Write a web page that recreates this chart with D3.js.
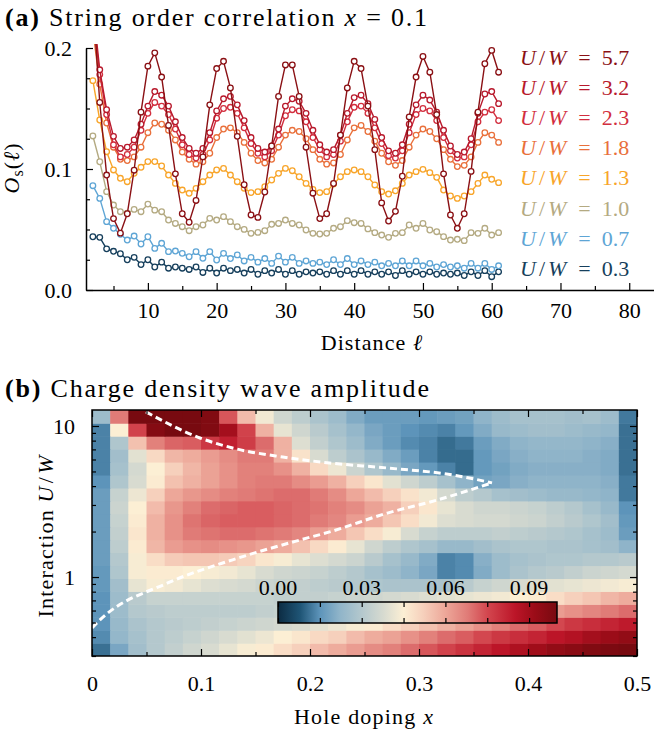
<!DOCTYPE html>
<html><head><meta charset="utf-8">
<script src="https://cdn.jsdelivr.net/npm/d3@7"></script>
<style>
body{margin:0;background:#fff;}
svg{display:block;font-family:"Liberation Serif","Times New Roman",serif;}
text{font-family:"Liberation Serif","Times New Roman",serif;}
</style></head><body>
<svg id="c" width="654" height="733"></svg>
<script>
// ---------- Panel (a) data ----------
const distances = [2,3,4,5,6,7,8,9,10,11,12,13,14,15,16,17,18,19,20,21,22,23,24,25,26,27,28,29,30,31,32,33,34,35,36,37,38,39,40,41,42,43,44,45,46,47,48,49,50,51,52,53,54,55,56,57,58,59,60,61];
const uwLabels = ["5.7","3.2","2.3","1.8","1.3","1.0","0.7","0.3"];
const uwColors = ["#8a1014","#b8192c","#d22e3e","#e9703b","#f8a52a","#b4aa82","#5ea5d5","#163f5c"];
const uw57 = [0.24,0.155,0.095,0.059,0.047,0.063,0.099,0.147,0.185,0.196,0.176,0.136,0.096,0.063,0.056,0.074,0.11,0.153,0.183,0.189,
  0.167,0.127,0.087,0.062,0.06,0.081,0.119,0.16,0.186,0.186,0.16,0.118,0.08,0.059,0.063,0.088,0.128,0.167,0.189,0.183,
  0.152,0.116,0.072,0.057,0.065,0.094,0.143,0.176,0.193,0.18,0.145,0.096,0.062,0.051,0.063,0.098,0.147,0.187,0.198,0.18];
const uw32 = [0.235,0.182,0.149,0.127,0.117,0.118,0.124,0.137,0.152,0.164,0.161,0.152,0.139,0.126,0.117,0.113,0.117,0.13,0.148,0.158,
  0.16,0.153,0.14,0.126,0.117,0.114,0.119,0.133,0.152,0.158,0.156,0.146,0.132,0.12,0.114,0.116,0.128,0.146,0.159,0.161,
  0.154,0.141,0.126,0.115,0.113,0.12,0.137,0.153,0.161,0.157,0.147,0.132,0.119,0.112,0.114,0.125,0.146,0.162,0.164,0.154];
const uw23 = [0.228,0.178,0.145,0.12,0.11,0.112,0.118,0.132,0.146,0.155,0.152,0.145,0.133,0.12,0.112,0.109,0.112,0.124,0.142,0.15,
  0.151,0.146,0.134,0.121,0.113,0.11,0.115,0.128,0.144,0.149,0.148,0.139,0.126,0.116,0.11,0.112,0.123,0.139,0.151,0.152,
  0.146,0.134,0.121,0.111,0.109,0.115,0.13,0.145,0.15,0.148,0.14,0.126,0.115,0.109,0.11,0.12,0.139,0.147,0.149,0.14];
const uw18 = [0.215,0.17,0.138,0.118,0.108,0.107,0.11,0.118,0.13,0.138,0.137,0.132,0.124,0.114,0.108,0.104,0.106,0.113,0.126,0.133,
  0.134,0.13,0.122,0.113,0.107,0.105,0.108,0.118,0.128,0.132,0.131,0.125,0.116,0.108,0.104,0.105,0.112,0.124,0.134,0.136,
  0.131,0.123,0.113,0.106,0.103,0.107,0.118,0.128,0.133,0.131,0.125,0.116,0.108,0.102,0.103,0.11,0.122,0.13,0.128,0.122];
const uw13 = [0.173,0.1405,0.1143,0.0992,0.0923,0.0895,0.0964,0.1014,0.1061,0.1061,0.1025,0.095,0.0881,0.0826,0.0799,0.084,0.0895,0.095,0.0992,0.1005,
  0.095,0.0895,0.084,0.0805,0.0813,0.0854,0.0909,0.0964,0.1005,0.0986,0.0936,0.0881,0.0832,0.0805,0.0813,0.0876,0.0936,0.0978,0.0992,0.0978,
  0.0936,0.0868,0.0813,0.0793,0.082,0.0881,0.095,0.0978,0.0997,0.097,0.0931,0.0826,0.0777,0.0757,0.0777,0.0813,0.0881,0.095,0.0915,0.0887];
const uw10 = [0.1273,0.106,0.0813,0.0702,0.0647,0.0634,0.0666,0.0647,0.071,0.066,0.0647,0.0578,0.055,0.0523,0.049,0.0523,0.0537,0.0592,0.0578,0.0606,
  0.0565,0.0523,0.0501,0.0468,0.0476,0.049,0.0543,0.055,0.0578,0.055,0.0537,0.0496,0.0468,0.0463,0.0468,0.051,0.0523,0.0573,0.0556,0.055,
  0.0505,0.0474,0.0454,0.0435,0.0468,0.0474,0.0537,0.051,0.055,0.0496,0.0482,0.0441,0.0413,0.0419,0.0408,0.0474,0.0468,0.051,0.0454,0.0474];
const uw07 = [0.0862,0.0757,0.0565,0.051,0.046,0.0413,0.0446,0.038,0.044,0.0344,0.0386,0.0317,0.0322,0.0303,0.0275,0.0317,0.0262,0.0317,0.0248,0.0303,
  0.026,0.029,0.024,0.027,0.023,0.026,0.022,0.028,0.023,0.027,0.022,0.024,0.022,0.023,0.021,0.025,0.021,0.026,0.021,0.024,
  0.021,0.023,0.02,0.022,0.02,0.024,0.02,0.024,0.02,0.022,0.019,0.021,0.019,0.02,0.018,0.022,0.018,0.022,0.017,0.02];
const uw03 = [0.044,0.0435,0.034,0.032,0.03,0.025,0.027,0.021,0.025,0.019,0.023,0.018,0.019,0.018,0.017,0.019,0.0145,0.018,0.014,0.018,
  0.016,0.017,0.014,0.017,0.013,0.016,0.014,0.017,0.013,0.016,0.013,0.015,0.014,0.015,0.013,0.016,0.013,0.016,0.013,0.016,
  0.013,0.015,0.013,0.015,0.012,0.016,0.013,0.015,0.013,0.015,0.013,0.014,0.013,0.014,0.012,0.015,0.012,0.016,0.011,0.015];
const seriesValues = [uw57, uw32, uw23, uw18, uw13, uw10, uw07, uw03];
const xTicksA = [10,20,30,40,50,60,70,80];
const xMinorA = [5,15,25,35,45,55,65,75];
const yTicksA = [0,0.1,0.2];
const yMinorA = [0.025,0.05,0.075,0.125,0.15,0.175];

// ---------- Panel (b) data ----------
const dopingEdges = [0,0.01667,0.03333,0.05,0.06667,0.08333,0.1,0.11667,0.13333,0.15,0.16667,0.18333,0.2,0.21667,0.23333,0.25,0.26667,0.28333,0.3,0.31667,0.33333,0.35,0.36667,0.38333,0.4,0.41667,0.43333,0.45,0.46667,0.48333,0.5];
const interactionEdges = [0.30,0.365,0.445,0.542,0.660,0.804,0.979,1.193,1.453,1.769,2.155,2.625,3.197,3.894,4.743,5.777,7.036,8.570,10.44,12.76];
// rows from lowest U/W (bottom) to highest (top), 30 doping columns each
const cdwAmplitude = [
 [0.011,0.019,0.026,0.03,0.033,0.036,0.038,0.041,0.044,0.046,0.049,0.052,0.056,0.059,0.062,0.065,0.067,0.07,0.073,0.076,0.079,0.082,0.085,0.088,0.091,0.094,0.096,0.098,0.099,0.1],
 [0.014,0.023,0.027,0.03,0.032,0.034,0.036,0.038,0.04,0.042,0.045,0.047,0.05,0.052,0.056,0.059,0.061,0.064,0.067,0.07,0.072,0.075,0.078,0.08,0.082,0.085,0.087,0.09,0.092,0.094],
 [0.015,0.024,0.028,0.03,0.031,0.032,0.033,0.034,0.035,0.036,0.037,0.038,0.04,0.042,0.044,0.046,0.049,0.052,0.055,0.058,0.061,0.064,0.067,0.07,0.072,0.075,0.078,0.08,0.082,0.084],
 [0.015,0.025,0.03,0.031,0.032,0.032,0.032,0.032,0.032,0.033,0.034,0.035,0.036,0.037,0.039,0.041,0.043,0.045,0.047,0.049,0.051,0.053,0.055,0.057,0.059,0.062,0.064,0.066,0.068,0.07],
 [0.015,0.025,0.031,0.034,0.034,0.034,0.034,0.034,0.034,0.034,0.033,0.033,0.033,0.034,0.035,0.036,0.037,0.038,0.039,0.04,0.041,0.042,0.043,0.045,0.046,0.049,0.052,0.054,0.057,0.059],
 [0.016,0.026,0.041,0.044,0.043,0.041,0.039,0.038,0.037,0.035,0.034,0.033,0.032,0.031,0.03,0.029,0.028,0.028,0.028,0.028,0.031,0.034,0.036,0.038,0.039,0.04,0.041,0.042,0.043,0.044],
 [0.016,0.029,0.044,0.046,0.046,0.045,0.044,0.043,0.041,0.038,0.036,0.035,0.034,0.032,0.03,0.027,0.025,0.022,0.019,0.013,0.014,0.02,0.025,0.028,0.03,0.031,0.033,0.035,0.036,0.037],
 [0.017,0.03,0.044,0.049,0.053,0.054,0.054,0.053,0.051,0.047,0.044,0.041,0.039,0.037,0.035,0.031,0.027,0.024,0.02,0.013,0.014,0.021,0.025,0.027,0.028,0.029,0.029,0.03,0.03,0.031],
 [0.017,0.032,0.046,0.057,0.062,0.064,0.065,0.064,0.063,0.061,0.059,0.055,0.05,0.046,0.041,0.036,0.032,0.029,0.027,0.024,0.024,0.026,0.028,0.029,0.029,0.028,0.028,0.027,0.026,0.022],
 [0.017,0.033,0.047,0.058,0.064,0.068,0.069,0.07,0.07,0.069,0.068,0.066,0.062,0.059,0.054,0.049,0.044,0.038,0.034,0.032,0.032,0.032,0.033,0.032,0.031,0.03,0.029,0.027,0.025,0.017],
 [0.017,0.034,0.046,0.058,0.064,0.069,0.071,0.072,0.072,0.072,0.071,0.07,0.068,0.066,0.062,0.059,0.054,0.049,0.043,0.039,0.038,0.037,0.037,0.036,0.035,0.033,0.031,0.029,0.026,0.016],
 [0.017,0.035,0.045,0.056,0.063,0.067,0.07,0.071,0.072,0.072,0.071,0.07,0.069,0.067,0.065,0.061,0.058,0.052,0.047,0.041,0.038,0.036,0.036,0.035,0.034,0.032,0.03,0.027,0.024,0.015],
 [0.017,0.034,0.042,0.052,0.06,0.063,0.065,0.067,0.068,0.069,0.07,0.07,0.068,0.065,0.06,0.056,0.052,0.048,0.043,0.037,0.032,0.03,0.027,0.026,0.025,0.024,0.024,0.023,0.022,0.012],
 [0.015,0.029,0.038,0.046,0.055,0.058,0.061,0.064,0.067,0.068,0.068,0.065,0.062,0.058,0.052,0.047,0.04,0.036,0.032,0.027,0.022,0.018,0.019,0.021,0.022,0.022,0.022,0.022,0.021,0.012],
 [0.013,0.027,0.037,0.045,0.052,0.057,0.061,0.064,0.067,0.067,0.064,0.058,0.05,0.042,0.035,0.029,0.024,0.019,0.016,0.013,0.0105,0.016,0.018,0.02,0.021,0.021,0.021,0.021,0.02,0.011],
 [0.013,0.026,0.04,0.05,0.057,0.059,0.062,0.065,0.068,0.068,0.058,0.048,0.038,0.032,0.028,0.024,0.02,0.017,0.013,0.0105,0.0105,0.016,0.019,0.021,0.022,0.022,0.022,0.021,0.02,0.011],
 [0.013,0.029,0.055,0.067,0.071,0.072,0.078,0.083,0.077,0.07,0.058,0.039,0.033,0.029,0.025,0.02,0.017,0.014,0.013,0.0105,0.012,0.017,0.02,0.022,0.023,0.023,0.023,0.022,0.021,0.011],
 [0.013,0.045,0.076,0.097,0.1,0.1,0.098,0.09,0.076,0.058,0.041,0.036,0.031,0.027,0.023,0.019,0.017,0.015,0.014,0.013,0.016,0.02,0.024,0.025,0.026,0.026,0.025,0.024,0.023,0.011],
 [0.025,0.068,0.1,0.1,0.1,0.1,0.098,0.073,0.056,0.043,0.036,0.032,0.028,0.025,0.02,0.017,0.017,0.017,0.016,0.017,0.018,0.022,0.025,0.027,0.027,0.027,0.026,0.027,0.025,0.012]
];
const upperBoundary = [[0.0495,12.4],[0.099,8.33],[0.129,7.15],[0.175,6.23],[0.218,5.69],[0.271,5.27],[0.331,4.74],[0.367,4.2]];
const lowerBoundary = [[0,0.46],[0.0073,0.52],[0.069,0.91],[0.129,1.30],[0.191,1.76],[0.218,1.99],[0.271,2.65],[0.317,3.24],[0.367,4.2]];
const xTicksB = [0,0.1,0.2,0.3,0.4,0.5];
const xMinorB = [0.05,0.15,0.25,0.35,0.45];
const yTicksB = [1,10];
const yMinorB = [0.3,0.4,0.5,0.6,0.7,0.8,0.9,2,3,4,5,6,7,8,9];
const cbarTicks = [0,0.015,0.03,0.045,0.06,0.075,0.09];
const cbarLabels = [0,0.03,0.06,0.09];
const cmapStops = [0,0.008,0.015,0.022,0.03,0.038,0.045,0.052,0.06,0.068,0.075,0.085,0.092,0.1];
const cmapColors = ["#0c2b42","#1f5576","#5d94ba","#8fb4c9","#b4c8cd","#d8dbd0","#fcefd4","#f6d0bc","#eda799","#e07b77","#d3474f","#bc1528","#9b0c18","#780a10"];

// ---------- drawing ----------
const svg = d3.select("#c");
const FONT = "'Liberation Serif','Times New Roman',serif";
const FS = 22;
function txt(x, y, size){ return svg.append("text").attr("x",x).attr("y",y).attr("font-size",size).attr("font-family",FONT).attr("fill","#000"); }

// Panel (a)
const xA = d3.scaleLinear().domain([1, 83.6]).range([86, 654]);
const yA = d3.scaleLinear().domain([0, 0.2]).range([290, 48]);

txt(5,26,26).attr("letter-spacing",1.8)
  .html('<tspan font-weight="bold">(a)</tspan> String order correlation <tspan font-style="italic">x</tspan> = 0.1');

const defs = svg.append("defs");
defs.append("clipPath").attr("id","clipA").append("rect")
  .attr("x",86).attr("y",44).attr("width",568).attr("height",250);

const gA = svg.append("g").attr("clip-path","url(#clipA)");
const line = d3.line().x((d,i)=>xA(distances[i])).y(d=>yA(d));
for (let s = seriesValues.length-1; s >= 0; s--) {
  const vals = seriesValues[s];
  gA.append("path").attr("d", line(vals)).attr("fill","none")
    .attr("stroke", uwColors[s]).attr("stroke-width",1.4);
  gA.selectAll(null).data(vals).enter().append("circle")
    .attr("cx",(d,i)=>xA(distances[i])).attr("cy",d=>yA(d)).attr("r",2.8)
    .attr("fill","#fff").attr("stroke",uwColors[s]).attr("stroke-width",1.3);
}

function styleAxis(g){ g.select(".domain").attr("stroke","#000").attr("stroke-width",1.5);
  g.selectAll(".tick line").attr("stroke","#000").attr("stroke-width",1.2);
  g.selectAll(".tick text").attr("font-family",FONT).attr("font-size",FS).attr("fill","#000"); }

const axBA = svg.append("g").attr("transform","translate(0,290)")
  .call(d3.axisBottom(xA).tickValues(xTicksA).tickSize(-7).tickSizeOuter(0).tickPadding(12).tickFormat(d3.format("d")));
styleAxis(axBA);
const axBAm = svg.append("g").attr("transform","translate(0,290)")
  .call(d3.axisBottom(xA).tickValues(xMinorA).tickSize(-4).tickSizeOuter(0).tickFormat(""));
styleAxis(axBAm); axBAm.select(".domain").remove();
const axLA = svg.append("g").attr("transform","translate(86,0)")
  .call(d3.axisLeft(yA).tickValues(yTicksA).tickSize(-7).tickSizeOuter(0).tickPadding(14).tickFormat(d3.format(".1f")));
styleAxis(axLA);
const axLAm = svg.append("g").attr("transform","translate(86,0)")
  .call(d3.axisLeft(yA).tickValues(yMinorA).tickSize(-4).tickSizeOuter(0).tickFormat(""));
styleAxis(axLAm); axLAm.select(".domain").remove();

svg.append("text").attr("transform","translate(19,168) rotate(-90)").attr("text-anchor","middle")
  .attr("font-size",FS).attr("font-family",FONT).attr("letter-spacing",1)
  .html('<tspan font-style="italic">O</tspan><tspan font-size="16" dy="4">s</tspan><tspan dy="-4">(</tspan><tspan font-style="italic">ℓ</tspan>)');
txt(372,350,FS).attr("text-anchor","middle").attr("letter-spacing",1.1)
  .html('Distance <tspan font-style="italic">ℓ</tspan>');

uwLabels.forEach((lab,i)=>{
  txt(520,64.5+30.2*i,FS).attr("fill",uwColors[i])
    .html('<tspan font-style="italic">U</tspan><tspan dx="3">/</tspan><tspan dx="3" font-style="italic">W</tspan><tspan dx="12">=</tspan><tspan dx="11">'+lab+'</tspan>');
});

// Panel (b)
txt(5,397,26).attr("letter-spacing",1.8)
  .html('<tspan font-weight="bold">(b)</tspan> Charge density wave amplitude');

const xB = d3.scaleLinear().domain([0,0.5]).range([92,637]);
const yB = d3.scaleLog().domain([0.3,12.76]).range([656,410]);
const cmap = d3.scaleLinear().domain(cmapStops).range(cmapColors).interpolate(d3.interpolateRgb).clamp(true);

defs.append("clipPath").attr("id","clipB").append("rect")
  .attr("x",92).attr("y",410).attr("width",545).attr("height",246);
const gB = svg.append("g").attr("clip-path","url(#clipB)");
cdwAmplitude.forEach((row,r)=>{
  row.forEach((v,c)=>{
    const x0 = xB(dopingEdges[c]), x1 = xB(dopingEdges[c+1]);
    const y0 = yB(interactionEdges[r+1]), y1 = yB(interactionEdges[r]);
    gB.append("rect").attr("x",x0).attr("y",y0).attr("width",x1-x0+0.6).attr("height",y1-y0+0.6)
      .attr("fill",cmap(v));
  });
});
const bLine = d3.line().x(d=>xB(d[0])).y(d=>yB(d[1])).curve(d3.curveMonotoneX);
[upperBoundary, lowerBoundary].forEach(pts=>{
  gB.append("path").attr("d",bLine(pts)).attr("fill","none").attr("stroke","#fff")
    .attr("stroke-width",3).attr("stroke-dasharray","7,4");
});

function tickGroup(axis, tr, vals, size, fmt){
  const g = svg.append("g").attr("transform",tr).call(axis.tickValues(vals).tickSize(size).tickSizeOuter(0).tickFormat(fmt||""));
  styleAxis(g); g.select(".domain").remove(); return g;
}
tickGroup(d3.axisBottom(xB).tickPadding(19), "translate(0,656)", xTicksB, -7, d=> d===0?"0":d3.format(".1f")(d));
tickGroup(d3.axisBottom(xB), "translate(0,656)", xMinorB, -4);
tickGroup(d3.axisTop(xB), "translate(0,410)", xTicksB, -7);
tickGroup(d3.axisTop(xB), "translate(0,410)", xMinorB, -4);
tickGroup(d3.axisLeft(yB).tickPadding(17), "translate(92,0)", yTicksB, -7, d3.format("d"));
tickGroup(d3.axisLeft(yB), "translate(92,0)", yMinorB, -4);
tickGroup(d3.axisRight(yB), "translate(637,0)", yTicksB, -7);
tickGroup(d3.axisRight(yB), "translate(637,0)", yMinorB, -4);
svg.append("rect").attr("x",92).attr("y",410).attr("width",545).attr("height",246)
  .attr("fill","none").attr("stroke","#000").attr("stroke-width",1.5);

svg.append("text").attr("transform","translate(53,536) rotate(-90)").attr("text-anchor","middle")
  .attr("font-size",FS).attr("font-family",FONT).attr("letter-spacing",1.2)
  .html('Interaction <tspan font-style="italic">U</tspan><tspan dx="2">/</tspan><tspan dx="2" font-style="italic">W</tspan>');
txt(364,724,FS).attr("text-anchor","middle").attr("letter-spacing",1.2)
  .html('Hole doping <tspan font-style="italic">x</tspan>');

// colorbar
const cx = d3.scaleLinear().domain([0,0.1]).range([278,557]);
const grad = defs.append("linearGradient").attr("id","cbg").attr("x1","0%").attr("x2","100%");
cmapStops.forEach((s,i)=>grad.append("stop").attr("offset",(s/0.1*100)+"%").attr("stop-color",cmapColors[i]));
svg.append("rect").attr("x",278).attr("y",602).attr("width",279).attr("height",21).attr("fill","url(#cbg)");
const cbTop = svg.append("g").attr("transform","translate(0,602)")
  .call(d3.axisTop(cx).tickValues(cbarTicks).tickSize(-5).tickSizeOuter(0).tickFormat(""));
styleAxis(cbTop); cbTop.select(".domain").remove();
const cbBot = svg.append("g").attr("transform","translate(0,623)")
  .call(d3.axisBottom(cx).tickValues(cbarTicks).tickSize(-5).tickSizeOuter(0).tickFormat(""));
styleAxis(cbBot); cbBot.select(".domain").remove();
svg.append("rect").attr("x",278).attr("y",602).attr("width",279).attr("height",21)
  .attr("fill","none").attr("stroke","#000").attr("stroke-width",1.5);
cbarLabels.forEach(d=>{
  txt(cx(d),595,FS).attr("text-anchor","middle").text(d3.format(".2f")(d));
});
</script>
</body></html>
